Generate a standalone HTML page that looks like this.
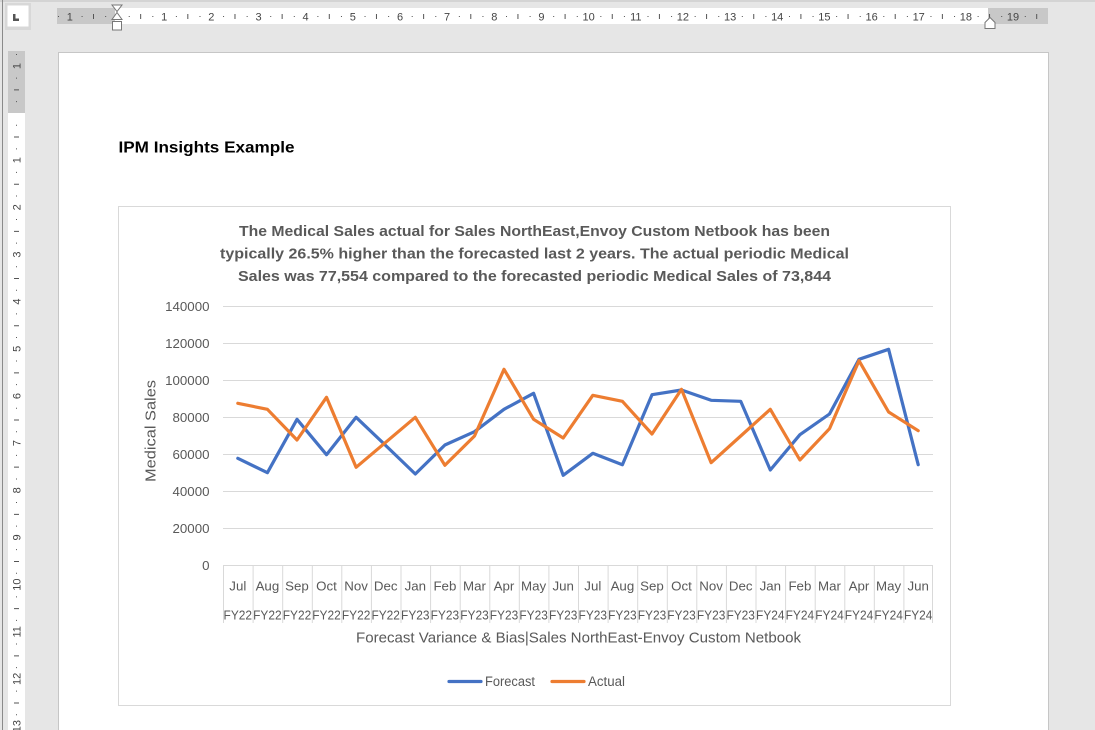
<!DOCTYPE html>
<html><head><meta charset="utf-8"><style>
html,body{margin:0;padding:0;background:#e6e6e6;}
svg{display:block;}
</style></head><body>
<svg width="1095" height="730" viewBox="0 0 1095 730" xmlns="http://www.w3.org/2000/svg" font-family="Liberation Sans, Arial, sans-serif">
<rect x="0" y="0" width="1095" height="730" fill="#e6e6e6"/>
<rect x="0" y="0" width="1095" height="2" fill="#d4d4d4"/>
<line x1="2.5" y1="0" x2="2.5" y2="730" stroke="#8a8a8a" stroke-width="1"/>
<!-- tab selector -->
<rect x="5" y="3" width="26" height="27" fill="#d8d8d8"/>
<rect x="7.5" y="5.5" width="21" height="21" fill="#ffffff"/>
<path d="M13 14 V21 H19 V18.5 H15.5 V14 Z" fill="#555"/>
<!-- top ruler -->
<rect x="57" y="8" width="991" height="16" fill="#ffffff"/>
<rect x="57" y="8" width="58" height="16" fill="#c8c8c8"/>
<rect x="988" y="8" width="60" height="16" fill="#c8c8c8"/>
<line x1="58" y1="16.5" x2="1048" y2="16.5" stroke="#555" stroke-width="1" stroke-dasharray="1 22.58"/>
<line x1="93" y1="16.5" x2="1048" y2="16.5" stroke="#555" stroke-width="5" stroke-dasharray="1 46.16"/>
<g font-size="11" fill="#444" text-anchor="middle">
<rect x="62" y="10" width="15" height="13" fill="#c8c8c8"/>
<text x="69.8" y="20.5">1</text>
<rect x="157" y="10" width="14" height="13" fill="#fff"/><text x="164.2" y="20.5">1</text>
<rect x="204" y="10" width="14" height="13" fill="#fff"/><text x="211.3" y="20.5">2</text>
<rect x="251" y="10" width="14" height="13" fill="#fff"/><text x="258.5" y="20.5">3</text>
<rect x="298" y="10" width="14" height="13" fill="#fff"/><text x="305.6" y="20.5">4</text>
<rect x="346" y="10" width="14" height="13" fill="#fff"/><text x="352.8" y="20.5">5</text>
<rect x="393" y="10" width="14" height="13" fill="#fff"/><text x="400" y="20.5">6</text>
<rect x="440" y="10" width="14" height="13" fill="#fff"/><text x="447.1" y="20.5">7</text>
<rect x="487" y="10" width="14" height="13" fill="#fff"/><text x="494.3" y="20.5">8</text>
<rect x="534" y="10" width="14" height="13" fill="#fff"/><text x="541.4" y="20.5">9</text>
<rect x="579" y="10" width="19" height="13" fill="#fff"/><text x="588.6" y="20.5">10</text>
<rect x="626" y="10" width="19" height="13" fill="#fff"/><text x="635.8" y="20.5">11</text>
<rect x="673" y="10" width="19" height="13" fill="#fff"/><text x="682.9" y="20.5">12</text>
<rect x="721" y="10" width="19" height="13" fill="#fff"/><text x="730.1" y="20.5">13</text>
<rect x="768" y="10" width="19" height="13" fill="#fff"/><text x="777.2" y="20.5">14</text>
<rect x="815" y="10" width="19" height="13" fill="#fff"/><text x="824.4" y="20.5">15</text>
<rect x="862" y="10" width="19" height="13" fill="#fff"/><text x="871.6" y="20.5">16</text>
<rect x="909" y="10" width="19" height="13" fill="#fff"/><text x="918.7" y="20.5">17</text>
<rect x="956" y="10" width="19" height="13" fill="#fff"/><text x="965.9" y="20.5">18</text>
<rect x="1003" y="10" width="19" height="13" fill="#c8c8c8"/><text x="1013" y="20.5">19</text>
</g>
<!-- indent markers -->
<path d="M112 5 H122 L117 11.5 Z" fill="#fff" stroke="#777" stroke-width="1"/>
<path d="M117 12.5 L122 19.5 H112 Z" fill="#fff" stroke="#777" stroke-width="1"/>
<rect x="112.5" y="21.5" width="9" height="8.5" fill="#fff" stroke="#777" stroke-width="1"/>
<path d="M990 17.5 L995 22.5 V28.5 H985 V22.5 Z" fill="#fff" stroke="#777" stroke-width="1"/>
<!-- left ruler -->
<rect x="8" y="51" width="17" height="679" fill="#ffffff"/>
<rect x="8" y="51" width="17" height="62" fill="#c8c8c8"/>
<line x1="16.5" y1="54" x2="16.5" y2="730" stroke="#555" stroke-width="1" stroke-dasharray="1 22.58"/>
<line x1="16.5" y1="89.4" x2="16.5" y2="730" stroke="#555" stroke-width="5" stroke-dasharray="1 46.16"/>
<g font-size="11" fill="#444" text-anchor="middle">
<rect x="10" y="59" width="13" height="14" fill="#c8c8c8"/><text transform="translate(20.5,66) rotate(-90)">1</text>
<rect x="10" y="153" width="13" height="14" fill="#fff"/><text transform="translate(20.5,160.2) rotate(-90)">1</text>
<rect x="10" y="200" width="13" height="14" fill="#fff"/><text transform="translate(20.5,207.3) rotate(-90)">2</text>
<rect x="10" y="247" width="13" height="14" fill="#fff"/><text transform="translate(20.5,254.5) rotate(-90)">3</text>
<rect x="10" y="294" width="13" height="14" fill="#fff"/><text transform="translate(20.5,301.6) rotate(-90)">4</text>
<rect x="10" y="341" width="13" height="14" fill="#fff"/><text transform="translate(20.5,348.8) rotate(-90)">5</text>
<rect x="10" y="389" width="13" height="14" fill="#fff"/><text transform="translate(20.5,396) rotate(-90)">6</text>
<rect x="10" y="436" width="13" height="14" fill="#fff"/><text transform="translate(20.5,443.1) rotate(-90)">7</text>
<rect x="10" y="483" width="13" height="14" fill="#fff"/><text transform="translate(20.5,490.3) rotate(-90)">8</text>
<rect x="10" y="530" width="13" height="14" fill="#fff"/><text transform="translate(20.5,537.4) rotate(-90)">9</text>
<rect x="10" y="575" width="13" height="19" fill="#fff"/><text transform="translate(20.5,584.6) rotate(-90)">10</text>
<rect x="10" y="622" width="13" height="19" fill="#fff"/><text transform="translate(20.5,631.8) rotate(-90)">11</text>
<rect x="10" y="669" width="13" height="19" fill="#fff"/><text transform="translate(20.5,678.9) rotate(-90)">12</text>
<rect x="10" y="716" width="13" height="14" fill="#fff"/><text transform="translate(20.5,726.1) rotate(-90)">13</text>
</g>
<!-- page -->
<rect x="58.5" y="52.5" width="990" height="700" fill="#ffffff" stroke="#c6c6c6" stroke-width="1"/>
<text x="118.5" y="152.7" font-size="16" font-weight="bold" fill="#000" textLength="176" lengthAdjust="spacingAndGlyphs">IPM Insights Example</text>
<!-- chart frame -->
<rect x="118.5" y="206.5" width="832" height="499" fill="#ffffff" stroke="#d9d9d9" stroke-width="1"/>
<g font-size="14.5" font-weight="bold" fill="#595959" text-anchor="middle">
<text x="534.5" y="236" textLength="591" lengthAdjust="spacingAndGlyphs">The Medical Sales actual for Sales NorthEast,Envoy Custom Netbook has been</text>
<text x="534.5" y="258.5" textLength="629" lengthAdjust="spacingAndGlyphs">typically 26.5% higher than the forecasted last 2 years. The actual periodic Medical</text>
<text x="534.5" y="281" textLength="593" lengthAdjust="spacingAndGlyphs">Sales was 77,554 compared to the forecasted periodic Medical Sales of 73,844</text>
</g>
<!-- gridlines -->
<g stroke="#d9d9d9" stroke-width="1">
<line x1="223" y1="306.5" x2="933" y2="306.5"/>
<line x1="223" y1="343.5" x2="933" y2="343.5"/>
<line x1="223" y1="380.5" x2="933" y2="380.5"/>
<line x1="223" y1="417.5" x2="933" y2="417.5"/>
<line x1="223" y1="454.5" x2="933" y2="454.5"/>
<line x1="223" y1="491.5" x2="933" y2="491.5"/>
<line x1="223" y1="528.5" x2="933" y2="528.5"/>
<line x1="223" y1="565.5" x2="933" y2="565.5"/>
<line x1="223.5" y1="565" x2="223.5" y2="623"/>
<line x1="253.1" y1="565" x2="253.1" y2="623"/>
<line x1="282.7" y1="565" x2="282.7" y2="623"/>
<line x1="312.3" y1="565" x2="312.3" y2="623"/>
<line x1="341.8" y1="565" x2="341.8" y2="623"/>
<line x1="371.4" y1="565" x2="371.4" y2="623"/>
<line x1="401" y1="565" x2="401" y2="623"/>
<line x1="430.6" y1="565" x2="430.6" y2="623"/>
<line x1="460.2" y1="565" x2="460.2" y2="623"/>
<line x1="489.8" y1="565" x2="489.8" y2="623"/>
<line x1="519.3" y1="565" x2="519.3" y2="623"/>
<line x1="548.9" y1="565" x2="548.9" y2="623"/>
<line x1="578.5" y1="565" x2="578.5" y2="623"/>
<line x1="608.1" y1="565" x2="608.1" y2="623"/>
<line x1="637.7" y1="565" x2="637.7" y2="623"/>
<line x1="667.3" y1="565" x2="667.3" y2="623"/>
<line x1="696.8" y1="565" x2="696.8" y2="623"/>
<line x1="726.4" y1="565" x2="726.4" y2="623"/>
<line x1="756" y1="565" x2="756" y2="623"/>
<line x1="785.6" y1="565" x2="785.6" y2="623"/>
<line x1="815.2" y1="565" x2="815.2" y2="623"/>
<line x1="844.8" y1="565" x2="844.8" y2="623"/>
<line x1="874.3" y1="565" x2="874.3" y2="623"/>
<line x1="903.9" y1="565" x2="903.9" y2="623"/>
<line x1="932.5" y1="565" x2="932.5" y2="623"/>
</g>
<!-- y labels -->
<g font-size="13.3" fill="#595959" text-anchor="end">
<text x="209.5" y="311">140000</text>
<text x="209.5" y="348">120000</text>
<text x="209.5" y="385">100000</text>
<text x="209.5" y="422">80000</text>
<text x="209.5" y="459">60000</text>
<text x="209.5" y="496">40000</text>
<text x="209.5" y="533">20000</text>
<text x="209.5" y="570">0</text>
</g>
<text transform="translate(155.5,431) rotate(-90)" font-size="14.5" fill="#595959" text-anchor="middle" textLength="102" lengthAdjust="spacingAndGlyphs">Medical Sales</text>
<!-- category labels -->
<g font-size="13.3" fill="#595959" text-anchor="middle">
<text x="237.8" y="590.7">Jul</text>
<text x="267.4" y="590.7">Aug</text>
<text x="297" y="590.7">Sep</text>
<text x="326.5" y="590.7">Oct</text>
<text x="356.1" y="590.7">Nov</text>
<text x="385.7" y="590.7">Dec</text>
<text x="415.3" y="590.7">Jan</text>
<text x="444.9" y="590.7">Feb</text>
<text x="474.5" y="590.7">Mar</text>
<text x="504" y="590.7">Apr</text>
<text x="533.6" y="590.7">May</text>
<text x="563.2" y="590.7">Jun</text>
<text x="592.8" y="590.7">Jul</text>
<text x="622.4" y="590.7">Aug</text>
<text x="652" y="590.7">Sep</text>
<text x="681.5" y="590.7">Oct</text>
<text x="711.1" y="590.7">Nov</text>
<text x="740.7" y="590.7">Dec</text>
<text x="770.3" y="590.7">Jan</text>
<text x="799.9" y="590.7">Feb</text>
<text x="829.5" y="590.7">Mar</text>
<text x="859" y="590.7">Apr</text>
<text x="888.6" y="590.7">May</text>
<text x="918.2" y="590.7">Jun</text>
</g>
<g font-size="13.3" fill="#595959" text-anchor="middle" lengthAdjust="spacingAndGlyphs">
<text x="237.8" y="619.3" textLength="28.5" lengthAdjust="spacingAndGlyphs">FY22</text>
<text x="267.4" y="619.3" textLength="28.5" lengthAdjust="spacingAndGlyphs">FY22</text>
<text x="297" y="619.3" textLength="28.5" lengthAdjust="spacingAndGlyphs">FY22</text>
<text x="326.5" y="619.3" textLength="28.5" lengthAdjust="spacingAndGlyphs">FY22</text>
<text x="356.1" y="619.3" textLength="28.5" lengthAdjust="spacingAndGlyphs">FY22</text>
<text x="385.7" y="619.3" textLength="28.5" lengthAdjust="spacingAndGlyphs">FY22</text>
<text x="415.3" y="619.3" textLength="28.5" lengthAdjust="spacingAndGlyphs">FY23</text>
<text x="444.9" y="619.3" textLength="28.5" lengthAdjust="spacingAndGlyphs">FY23</text>
<text x="474.5" y="619.3" textLength="28.5" lengthAdjust="spacingAndGlyphs">FY23</text>
<text x="504" y="619.3" textLength="28.5" lengthAdjust="spacingAndGlyphs">FY23</text>
<text x="533.6" y="619.3" textLength="28.5" lengthAdjust="spacingAndGlyphs">FY23</text>
<text x="563.2" y="619.3" textLength="28.5" lengthAdjust="spacingAndGlyphs">FY23</text>
<text x="592.8" y="619.3" textLength="28.5" lengthAdjust="spacingAndGlyphs">FY23</text>
<text x="622.4" y="619.3" textLength="28.5" lengthAdjust="spacingAndGlyphs">FY23</text>
<text x="652" y="619.3" textLength="28.5" lengthAdjust="spacingAndGlyphs">FY23</text>
<text x="681.5" y="619.3" textLength="28.5" lengthAdjust="spacingAndGlyphs">FY23</text>
<text x="711.1" y="619.3" textLength="28.5" lengthAdjust="spacingAndGlyphs">FY23</text>
<text x="740.7" y="619.3" textLength="28.5" lengthAdjust="spacingAndGlyphs">FY23</text>
<text x="770.3" y="619.3" textLength="28.5" lengthAdjust="spacingAndGlyphs">FY24</text>
<text x="799.9" y="619.3" textLength="28.5" lengthAdjust="spacingAndGlyphs">FY24</text>
<text x="829.5" y="619.3" textLength="28.5" lengthAdjust="spacingAndGlyphs">FY24</text>
<text x="859" y="619.3" textLength="28.5" lengthAdjust="spacingAndGlyphs">FY24</text>
<text x="888.6" y="619.3" textLength="28.5" lengthAdjust="spacingAndGlyphs">FY24</text>
<text x="918.2" y="619.3" textLength="28.5" lengthAdjust="spacingAndGlyphs">FY24</text>
</g>
<text x="578.5" y="642.7" font-size="15" fill="#595959" text-anchor="middle" textLength="445" lengthAdjust="spacingAndGlyphs">Forecast Variance &amp; Bias|Sales NorthEast-Envoy Custom Netbook</text>
<!-- series -->
<polyline fill="none" stroke="#4472C4" stroke-width="3.2" stroke-linejoin="round" stroke-linecap="round" points="237.8,458.3 267.4,472.7 297,419.3 326.5,454.7 356.1,417.3 385.7,445.5 415.3,474 444.9,445 474.5,431.7 504,409.3 533.6,393.3 563.2,475.3 592.8,453.3 622.4,464.7 652,394.7 681.5,390 711.1,400.3 740.7,401.3 770.3,470 799.9,434.7 829.5,414 859,359.3 888.6,349.3 918.2,464.7"/>
<polyline fill="none" stroke="#ED7D31" stroke-width="3.2" stroke-linejoin="round" stroke-linecap="round" points="237.8,403.3 267.4,409.3 297,440 326.5,397.3 356.1,467.3 385.7,442.3 415.3,417.3 444.9,465.3 474.5,436 504,369.3 533.6,419.3 563.2,438 592.8,395.3 622.4,401.3 652,434 681.5,389.3 711.1,462.7 740.7,436 770.3,409.3 799.9,460 829.5,428.7 859,360.7 888.6,412 918.2,430.7"/>
<!-- legend -->
<line x1="449" y1="681.5" x2="481" y2="681.5" stroke="#4472C4" stroke-width="3.2" stroke-linecap="round"/>
<text x="485" y="686.2" font-size="13.5" fill="#595959" textLength="50" lengthAdjust="spacingAndGlyphs">Forecast</text>
<line x1="552" y1="681.5" x2="584" y2="681.5" stroke="#ED7D31" stroke-width="3.2" stroke-linecap="round"/>
<text x="588" y="686.2" font-size="13.5" fill="#595959" textLength="37" lengthAdjust="spacingAndGlyphs">Actual</text>
</svg>
</body></html>
